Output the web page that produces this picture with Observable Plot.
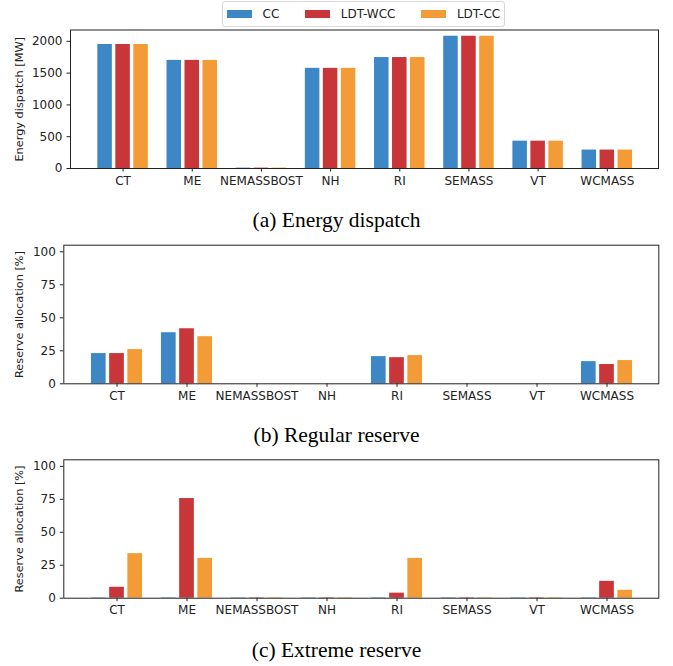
<!DOCTYPE html>
<html>
<head>
<meta charset="utf-8">
<script src="https://cdn.jsdelivr.net/npm/d3@7"></script>
<script src="https://cdn.jsdelivr.net/npm/@observablehq/plot@0.6"></script>
<style>
  html, body { margin: 0; padding: 0; background: #fff; }
  #root { position: relative; width: 673px; height: 666px; overflow: hidden; font-family: "DejaVu Sans", sans-serif; }
  .panel { position: absolute; left: 0; }
  .caption { position: absolute; left: 0; width: 673px; text-align: center; font-family: "Liberation Serif", "Times New Roman", serif; font-size: 21.5px; line-height: 21.5px; color: #000; }
  #legend { position: absolute; left: 222px; top: 1px; height: 26px; box-sizing: border-box; border: 1px solid #d6d6d6; border-radius: 3px; display: flex; align-items: center; padding: 0 4px 0 4px; font-size: 12px; color: #222; background: #fff; }
  .item { display: flex; align-items: center; margin-right: 26px; }
  .item:last-child { margin-right: 0; }
  .patch { width: 24.5px; height: 8.5px; margin-right: 11px; }
</style>
</head>
<body>
<div id="root">
  <div id="legend"></div>
</div>
<script>
const regions = ["CT", "ME", "NEMASSBOST", "NH", "RI", "SEMASS", "VT", "WCMASS"];
const series = ["CC", "LDT-WCC", "LDT-CC"];
const colors = ["#3e87c7", "#c9363a", "#f39c37"];

// (a) Energy dispatch [MW]
const energyCC     = [1950, 1700, 6, 1575, 1745, 2080, 430, 290];
const energyLDTWCC = [1950, 1700, 6, 1575, 1745, 2080, 430, 290];
const energyLDTCC  = [1950, 1700, 6, 1575, 1745, 2080, 430, 290];

// (b) Regular reserve allocation [%]
const regularCC     = [22.9, 38.7, 0, 0, 20.6, 0, 0, 16.8];
const regularLDTWCC = [22.9, 41.7, 0, 0, 19.8, 0, 0, 14.6];
const regularLDTCC  = [25.9, 35.7, 0, 0, 21.4, 0, 0, 17.6];

// (c) Extreme reserve allocation [%]
const extremeCC     = [0.3, 0.3, 0.3, 0.3, 0.3, 0.3, 0.3, 0.3];
const extremeLDTWCC = [8.3, 75.6, 0.3, 0.3, 3.8, 0.3, 0.3, 12.8];
const extremeLDTCC  = [33.8, 30.2, 0.3, 0.3, 30.2, 0.3, 0.3, 6.0];

const energyTicks = [0, 500, 1000, 1500, 2000];
const reserveTicks = [0, 25, 50, 75, 100];

const root = document.getElementById("root");

// Legend
const legend = document.getElementById("legend");
series.forEach((s, j) => {
  const it = document.createElement("div");
  it.className = "item";
  const p = document.createElement("div");
  p.className = "patch";
  p.style.background = colors[j];
  const t = document.createElement("span");
  t.textContent = s;
  it.appendChild(p); it.appendChild(t);
  legend.appendChild(it);
});

const offsets = [-0.26, 0, 0.26];
const barW = 0.21;

function rows(arrs) {
  const out = [];
  regions.forEach((r, i) => {
    series.forEach((s, j) => {
      out.push({i, region: r, series: s, j, value: arrs[j][i]});
    });
  });
  return out;
}

function panel({data, top, height, mTop, mBottom, mLeft, mRight, yDomain, yTicks, yLabel, labelOffset}) {
  const p = Plot.plot({
    width: 673,
    height,
    marginTop: mTop,
    marginBottom: mBottom,
    marginLeft: mLeft,
    marginRight: mRight,
    style: {fontFamily: "DejaVu Sans, sans-serif", fontSize: "12px", color: "#222", background: "white"},
    x: {type: "linear", domain: [-0.76, 7.74]},
    y: {domain: yDomain},
    color: {domain: series, range: colors},
    marks: [
      Plot.rectY(data, {
        x1: d => d.i + offsets[d.j] - barW / 2,
        x2: d => d.i + offsets[d.j] + barW / 2,
        y1: 0,
        y2: "value",
        fill: "series"
      }),
      Plot.axisX({ticks: d3.range(regions.length), tickFormat: i => regions[i], tickSize: 3.5, tickPadding: 4, label: null, stroke: "#222", fontSize: 12}),
      Plot.axisY({ticks: yTicks, tickFormat: d3.format("d"), tickSize: 3.5, tickPadding: 4.5, label: null, stroke: "#222", fontSize: 12}),
      Plot.axisY({ticks: [], tickSize: 0, label: yLabel, labelAnchor: "center", labelArrow: "none", labelOffset, fontSize: 11.3}),
      Plot.frame({stroke: "#222", strokeWidth: 1})
    ]
  });
  p.classList.add("panel");
  p.style.top = top + "px";
  root.appendChild(p);
}

panel({
  data: rows([energyCC, energyLDTWCC, energyLDTCC]),
  top: 0, height: 200, mTop: 29.5, mBottom: 32, mLeft: 70, mRight: 15,
  yDomain: [0, 2178], yTicks: energyTicks, yLabel: "Energy dispatch [MW]", labelOffset: 56
});
panel({
  data: rows([regularCC, regularLDTWCC, regularLDTCC]),
  top: 230, height: 180, mTop: 14.7, mBottom: 26.7, mLeft: 63.3, mRight: 14.7,
  yDomain: [0, 105], yTicks: reserveTicks, yLabel: "Reserve allocation [%]", labelOffset: 49.3
});
panel({
  data: rows([extremeCC, extremeLDTWCC, extremeLDTCC]),
  top: 445, height: 180, mTop: 14.3, mBottom: 27.3, mLeft: 63.3, mRight: 14.7,
  yDomain: [0, 105], yTicks: reserveTicks, yLabel: "Reserve allocation [%]", labelOffset: 49.3
});

// Captions
const captions = [["(a) Energy dispatch", 210], ["(b) Regular reserve", 425], ["(c) Extreme reserve", 640]];
captions.forEach(([t, top]) => {
  const c = document.createElement("div");
  c.className = "caption";
  c.style.top = top + "px";
  c.textContent = t;
  root.appendChild(c);
});
// keep legend on top
root.appendChild(legend);
</script>
</body>
</html>
